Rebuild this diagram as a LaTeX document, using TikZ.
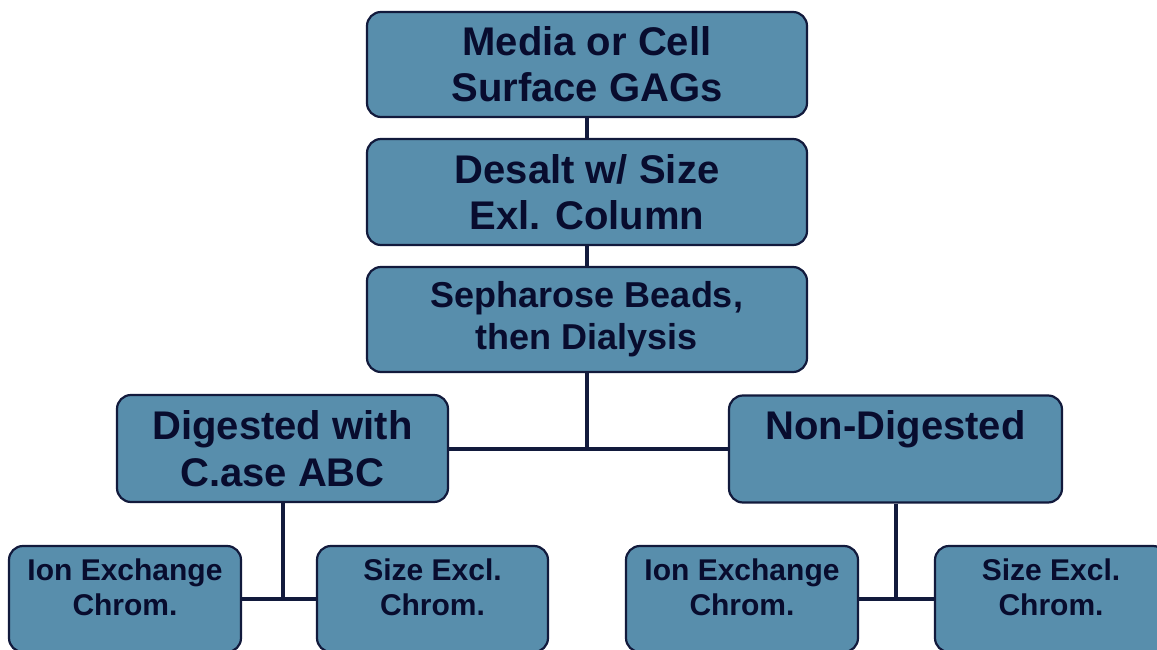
\documentclass[tikz,border=0pt]{standalone}
\usepackage{fontspec}
\setmainfont{Liberation Sans}
\definecolor{boxfill}{RGB}{88,142,172}
\definecolor{navy}{RGB}{18,26,60}
\definecolor{txtcol}{RGB}{8,12,46}
\tikzset{
  flowbox/.style={draw=navy, line width=2.2pt, fill=boxfill, rounded corners=14pt,
    align=center, text=txtcol, inner sep=0pt,
    font=\bfseries\fontsize{40}{46}\selectfont},
  smallbox/.style={flowbox, font=\bfseries\fontsize{30}{35}\selectfont,
    minimum width=232pt, minimum height=106pt},
  conn/.style={draw=navy, line width=4pt}
}
\begin{document}
\begin{tikzpicture}[x=1pt,y=-1pt]
\useasboundingbox (0,0) rectangle (1157,650);
\clip (0,0) rectangle (1157,650);
% main column
\node[flowbox, minimum width=440pt, minimum height=105pt] (top) at (587,64.5) {Media or Cell\\Surface GAGs};
\node[flowbox, minimum width=440pt, minimum height=106pt] (desalt) at (587,192) {Desalt w/ Size\\Exl. Column};
\node[flowbox, minimum width=440pt, minimum height=105pt, font=\bfseries\fontsize{36}{42}\selectfont] (seph) at (587,319.5) {Sepharose Beads,\\then Dialysis};
% second level
\node[flowbox, minimum width=331pt, minimum height=107pt, font=\bfseries\fontsize{40}{47}\selectfont] (dig) at (282.5,448.5) {Digested with\\C.ase ABC};
\node[flowbox, minimum width=333pt, minimum height=107pt, font=\bfseries\fontsize{40}{47}\selectfont] (non) at (895.5,449) {Non-Digested\\\mbox{}};
% bottom level
\node[smallbox] (ion1) at (125,599) {Ion Exchange\\Chrom.\\[-11pt]\mbox{}};
\node[smallbox, minimum width=231pt] (size1) at (432.5,599) {Size Excl.\\Chrom.\\[-11pt]\mbox{}};
\node[smallbox] (ion2) at (742,599) {Ion Exchange\\Chrom.\\[-11pt]\mbox{}};
\node[smallbox] (size2) at (1051,599) {Size Excl.\\Chrom.\\[-11pt]\mbox{}};
% connectors
\coordinate (j1) at (seph.south |- dig.east);
\coordinate (j2) at (dig.south |- ion1.east);
\coordinate (j3) at (non.south |- ion2.east);
\draw[conn] (top.south) -- (desalt.north);
\draw[conn] (desalt.south) -- (seph.north);
\draw[conn] (seph.south) -- (j1);
\draw[conn] (dig.east) -- (non.west |- dig.east);
\draw[conn] (dig.south) -- (j2);
\draw[conn] (ion1.east) -- (size1.west);
\draw[conn] (non.south) -- (j3);
\draw[conn] (ion2.east) -- (size2.west);
\end{tikzpicture}
\end{document}
